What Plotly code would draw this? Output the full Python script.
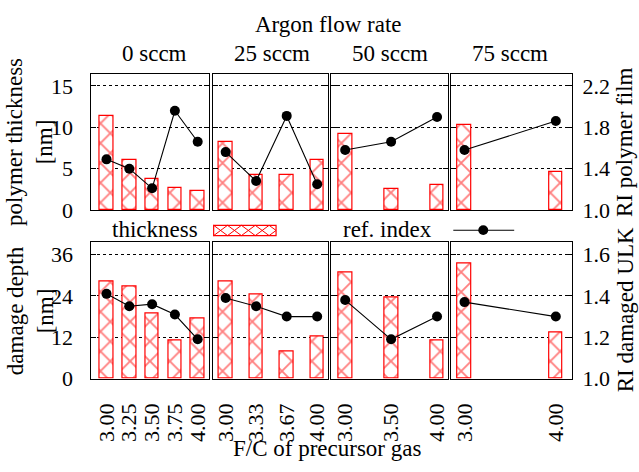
import plotly.graph_objects as go

# ---------------- data ----------------
panel_names = ["0 sccm", "25 sccm", "50 sccm", "75 sccm"]

fc_p1 = [3.00, 3.25, 3.50, 3.75, 4.00]
fc_p2 = [3.00, 3.333, 3.667, 4.00]
fc_p3 = [3.00, 3.50, 4.00]
fc_p4 = [3.00, 4.00]
fc_labels_p1 = ["3.00", "3.25", "3.50", "3.75", "4.00"]
fc_labels_p2 = ["3.00", "3.33", "3.67", "4.00"]
fc_labels_p3 = ["3.00", "3.50", "4.00"]
fc_labels_p4 = ["3.00", "4.00"]

thick_p1 = [11.4, 6.0, 3.8, 2.7, 2.3]
thick_p2 = [8.25, 4.2, 4.2, 6.05]
thick_p3 = [9.25, 2.55, 3.0]
thick_p4 = [10.3, 4.55]

ri_poly_p1 = [1.49, 1.40, 1.21, 1.96, 1.66]
ri_poly_p2 = [1.56, 1.28, 1.91, 1.25]
ri_poly_p3 = [1.58, 1.66, 1.90]
ri_poly_p4 = [1.58, 1.86]

depth_p1 = [28.1, 26.8, 18.9, 11.0, 17.6]
depth_p2 = [28.1, 24.4, 7.8, 12.1]
depth_p3 = [30.9, 23.6, 11.1]
depth_p4 = [33.5, 13.3]

ri_ulk_p1 = [1.41, 1.35, 1.36, 1.31, 1.19]
ri_ulk_p2 = [1.39, 1.35, 1.30, 1.30]
ri_ulk_p3 = [1.38, 1.19, 1.30]
ri_ulk_p4 = [1.37, 1.30]

top_ticks = [0, 5, 10, 15]
top_ri_ticks = [1.0, 1.4, 1.8, 2.2]
bot_ticks = [0, 12, 24, 36]
bot_ri_ticks = [1.0, 1.2, 1.4, 1.6]

# ---------------- layout geometry ----------------
W, H = 639, 472
FONT = "Liberation Serif"
FS_TICK = 22
FS_TEXT = 23

def px(x):
    return x / W

def py(y):
    return 1 - y / H

x_dom_px = [(90.7, 209.5), (213.0, 328.5), (332.0, 448.5), (452.0, 572.5)]
x_ranges = [(2.825, 4.126), (2.858, 4.118), (2.851, 4.117), (2.855, 4.173)]
row_dom_px = [(76.0, 216.0), (249.3, 389.3)]

top_range = [0, 16.45]
top_ri_range = [1.0, 1.0 + top_range[1] * (1.2 / 15)]
bot_range = [0, 39.53]
bot_ri_range = [1.0, 1.0 + bot_range[1] * (0.6 / 36)]

fcs = [fc_p1, fc_p2, fc_p3, fc_p4]
fc_labels = [fc_labels_p1, fc_labels_p2, fc_labels_p3, fc_labels_p4]
bars = [[thick_p1, thick_p2, thick_p3, thick_p4],
        [depth_p1, depth_p2, depth_p3, depth_p4]]
lines = [[ri_poly_p1, ri_poly_p2, ri_poly_p3, ri_poly_p4],
         [ri_ulk_p1, ri_ulk_p2, ri_ulk_p3, ri_ulk_p4]]
prim_ranges = [top_range, bot_range]
sec_ranges = [top_ri_range, bot_ri_range]
prim_ticks = [top_ticks, bot_ticks]
sec_ticks = [top_ri_ticks, bot_ri_ticks]

fig = go.Figure()
layout = {}

def axname(letter, n):
    return letter + "axis" + ("" if n == 1 else str(n))

def axref(letter, n):
    return letter + ("" if n == 1 else str(n))

tickf = dict(family=FONT, size=FS_TICK, color="black")
textf = dict(family=FONT, size=FS_TEXT, color="black")

for r in range(2):
    for i in range(4):
        n = r * 4 + i + 1
        ns = 8 + n
        xr, yr, ysr = axref("x", n), axref("y", n), axref("y", ns)
        fig.add_trace(go.Bar(
            x=fcs[i], y=bars[r][i], xaxis=xr, yaxis=yr, width=0.15,
            marker=dict(color="white",
                        line=dict(color="#ff0000", width=1.2),
                        pattern=dict(shape="x", fgcolor="#ff0000", bgcolor="white",
                                     size=14, solidity=0.25)),
            showlegend=False, name="thickness"))
        fig.add_trace(go.Scatter(
            x=fcs[i], y=lines[r][i], xaxis=xr, yaxis=ysr, mode="lines+markers",
            line=dict(color="black", width=1.1),
            marker=dict(color="black", size=10),
            showlegend=False, name="ref. index"))

        d0, d1 = x_dom_px[i]
        t0, t1 = row_dom_px[r]
        layout[axname("x", n)] = dict(
            domain=[px(d0), px(d1)], range=list(x_ranges[i]), anchor=yr,
            showline=True, mirror=True, linecolor="black", linewidth=1.3,
            ticks="", showgrid=False, zeroline=False,
            showticklabels=(r == 1),
            tickvals=fcs[i], ticktext=fc_labels[i], tickangle=-90,
            ticklabelstandoff=15, tickfont=tickf)
        layout[axname("y", n)] = dict(
            domain=[py(t1), py(t0)], range=prim_ranges[r], anchor=xr,
            showline=True, mirror="ticks", linecolor="black", linewidth=1.3,
            ticks="inside", ticklen=5, tickcolor="black", tickwidth=1,
            tickvals=prim_ticks[r], showgrid=True, gridcolor="black",
            griddash="dot", gridwidth=1, zeroline=False,
            showticklabels=(i == 0), ticklabelstandoff=12, tickfont=tickf)
        layout[axname("y", ns)] = dict(
            range=sec_ranges[r], overlaying=yr, anchor=xr, side="right",
            showline=False, ticks="", showgrid=False, zeroline=False,
            tickvals=sec_ticks[r], tickformat=".1f",
            showticklabels=(i == 3), visible=(i == 3),
            ticklabelstandoff=10, tickfont=tickf)

annotations = [
    dict(text="Argon flow rate", x=px(329), y=py(25)),
    dict(text=panel_names[0], x=px(155), y=py(55)),
    dict(text=panel_names[1], x=px(272), y=py(55)),
    dict(text=panel_names[2], x=px(391), y=py(55)),
    dict(text=panel_names[3], x=px(511), y=py(55)),
    dict(text="polymer thickness<br>[nm]", x=px(30), y=py(146), textangle=-90),
    dict(text="damage depth<br>[nm]", x=px(30), y=py(319), textangle=-90),
    dict(text="RI polymer film", x=px(626), y=py(146), textangle=-90),
    dict(text="RI damaged ULK", x=px(626), y=py(319), textangle=-90),
    dict(text="F/C of precursor gas", x=px(328), y=py(461)),
    dict(text="thickness", x=px(200), y=py(236.5), xanchor="right"),
    dict(text="ref. index", x=px(342), y=py(236.5), xanchor="left"),
]
for a in annotations:
    a.setdefault("xanchor", "center")
    a.update(xref="paper", yref="paper", showarrow=False, yanchor="middle", font=textf)

# legend keys (not data)
shapes = []
bx0, bx1, by0, by1 = 214.0, 276.5, 231.7, 242.3
shapes.append(dict(type="rect", xref="paper", yref="paper",
                   x0=px(bx0), x1=px(bx1), y0=py(by1), y1=py(by0),
                   line=dict(color="#ff0000", width=1.2), fillcolor="white"))
cw = (bx1 - bx0) / 4.5
path = ""
k = 0
while bx0 + k * cw < bx1 - 0.5:
    xa = bx0 + k * cw
    xb = min(xa + cw, bx1)
    frac = (xb - xa) / cw
    yb_down = by0 + frac * (by1 - by0)
    yb_up = by1 - frac * (by1 - by0)
    path += "M%.4f,%.4f L%.4f,%.4f " % (px(xa), py(by0), px(xb), py(yb_down))
    path += "M%.4f,%.4f L%.4f,%.4f " % (px(xa), py(by1), px(xb), py(yb_up))
    k += 1
shapes.append(dict(type="path", xref="paper", yref="paper", path=path,
                   line=dict(color="#ff0000", width=1)))
shapes.append(dict(type="line", xref="paper", yref="paper",
                   x0=px(454), x1=px(515), y0=py(236.7), y1=py(236.7),
                   line=dict(color="black", width=1.1)))
shapes.append(dict(type="circle", xref="paper", yref="paper",
                   x0=px(479), x1=px(489), y0=py(241.7), y1=py(231.7),
                   line=dict(color="black", width=0), fillcolor="black"))

fig.update_layout(
    width=W, height=H, margin=dict(l=0, r=0, t=0, b=0),
    paper_bgcolor="white", plot_bgcolor="white",
    showlegend=False, bargap=0, annotations=annotations, shapes=shapes,
    font=textf, **layout)

fig.write_html("out.html")
